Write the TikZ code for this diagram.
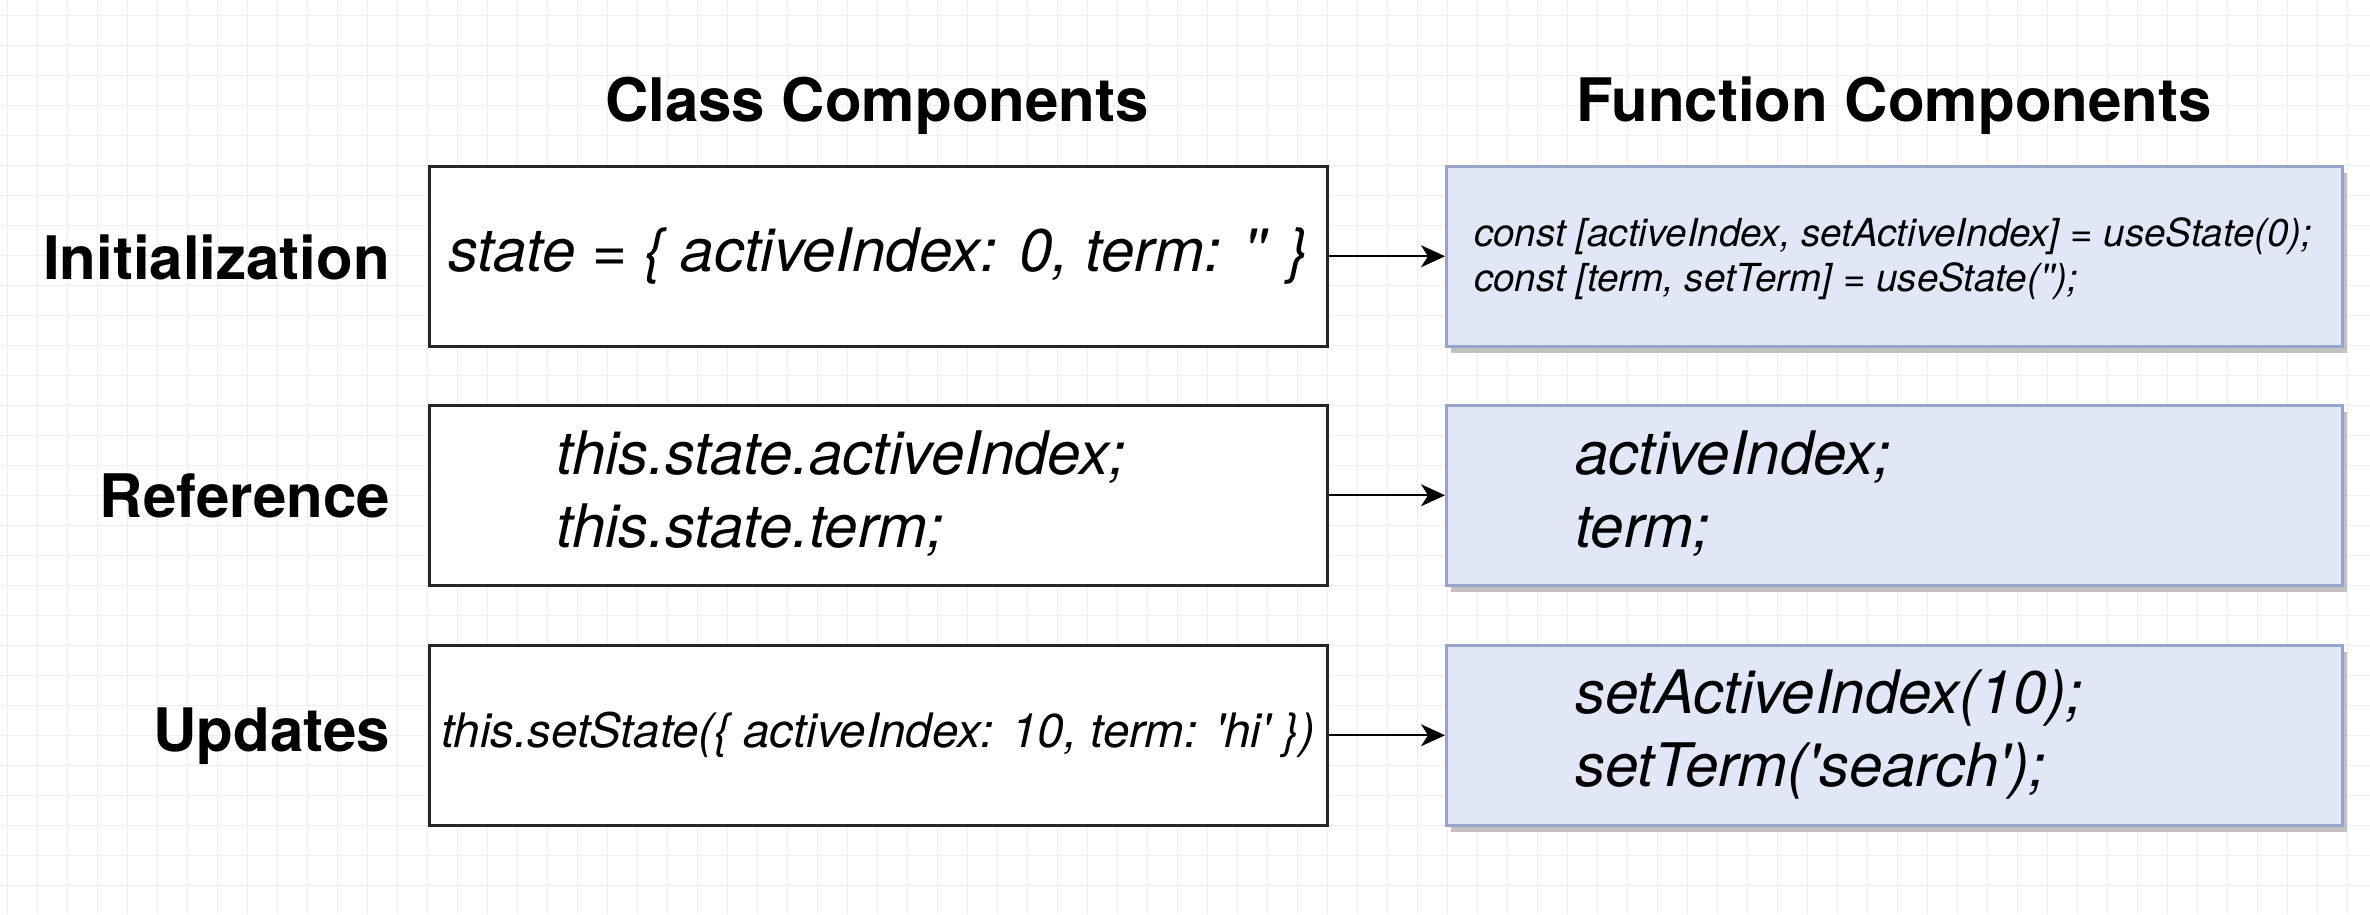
\documentclass[tikz,border=0pt]{standalone}
\usepackage{fontspec}
\setmainfont{TeX Gyre Heros}
\usetikzlibrary{arrows.meta,shadows}
\definecolor{gridc}{RGB}{238,238,240}
\definecolor{fcfill}{RGB}{226,231,248}
\definecolor{fcdraw}{RGB}{150,164,204}
\newcommand{\sq}{\textquotesingle}
\begin{document}
\begin{tikzpicture}[x=1pt,y=-1pt,
  classbox/.style={draw=black!85,line width=2.5pt,fill=white,minimum width=898pt,minimum height=180pt,inner sep=0pt,anchor=north west},
  funcbox/.style={draw=fcdraw,line width=2.5pt,fill=fcfill,minimum width=896pt,minimum height=180pt,inner sep=0pt,anchor=north west,
    drop shadow={shadow xshift=5pt,shadow yshift=-7pt,fill=black!40,opacity=0.6}},
  header/.style={font=\fontsize{60}{70}\selectfont\bfseries},
  rowlabel/.style={font=\fontsize{60}{70}\selectfont\bfseries,anchor=east,inner sep=0pt},
  code/.style={font=\fontsize{60}{73}\selectfont\itshape,align=left,inner sep=0pt},
  smallcode/.style={font=\fontsize{38.6}{45}\selectfont\itshape,align=left,inner sep=0pt},
  conn/.style={draw=black,line width=2pt,-{Stealth[length=24pt,width=22pt,inset=7pt]}}
]
\useasboundingbox (0,0) rectangle (2370,914);
\fill[white] (0,0) rectangle (2370,914);
\foreach \gx in {7,37,...,2370} \draw[gridc,line width=1pt] (\gx,0) -- (\gx,914);
\foreach \gy in {15,45,...,914} \draw[gridc,line width=1pt] (0,\gy) -- (2370,\gy);

\node[header] (hclass) at (877,106) {Class Components};
\node[header] (hfunc) at (1894,106) {Function Components};

\node[rowlabel] (linit) at (390,257) {Initialization};
\node[rowlabel] (lref) at (390,496) {Reference};
\node[rowlabel] (lupd) at (390,736) {Updates};

\node[classbox] (c1) at (428,165) {};
\node[classbox] (c2) at (428,404) {};
\node[classbox] (c3) at (428,644) {};

\node[funcbox] (f1) at (1445,165) {};
\node[funcbox] (f2) at (1445,404) {};
\node[funcbox] (f3) at (1445,644) {};

\node[code] (t1) at (c1.center) {state = \{ activeIndex: 0, term: \sq\sq{} \}};
\node[code,anchor=west] (t2) at (556,494) {this.state.activeIndex;\\this.state.term;};
\node[code,font=\fontsize{47.5}{56}\selectfont\itshape] (t3) at (c3.center) {this.setState(\{ activeIndex: 10, term: \sq hi\sq{} \})};

\node[smallcode,anchor=west] (u1) at (1474,259) {const [activeIndex, setActiveIndex] = useState(0);\\const [term, setTerm] = useState(\sq\sq);};
\node[code,anchor=west] (u2) at (1575,494) {activeIndex;\\term;};
\node[code,anchor=west] (u3) at (1575,735) {setActiveIndex(10);\\setTerm(\sq search\sq);};

\draw[conn] (c1.east) -- (f1.west);
\draw[conn] (c2.east) -- (f2.west);
\draw[conn] (c3.east) -- (f3.west);
\end{tikzpicture}
\end{document}
